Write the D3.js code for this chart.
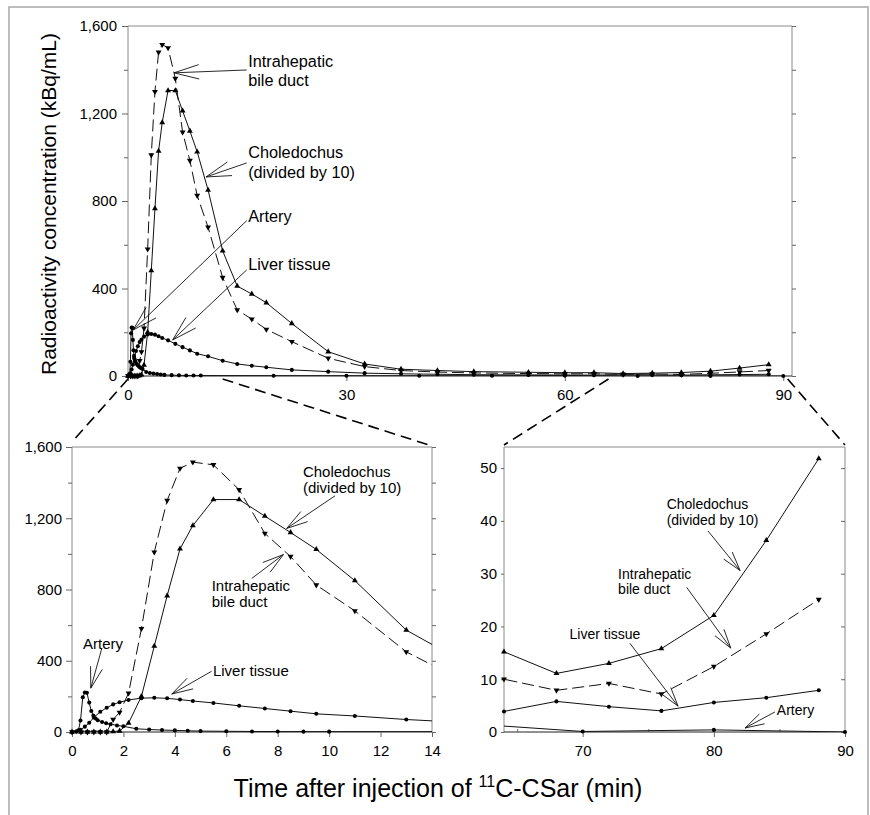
<!DOCTYPE html>
<html lang="en">
<head>
<meta charset="UTF-8">
<title>11C-CSar time-activity curves</title>
<script src="https://d3js.org/d3.v7.min.js"></script>
<style>
  body { margin: 0; background: #fff; }
  svg { display: block; font-family: Arial, "Liberation Sans", sans-serif; }
  .frame { fill: none; stroke: #a8a8a8; stroke-width: 1.5; }
  .box { fill: none; stroke: #8a8a8a; stroke-width: 1; }
  .tick text { font-size: 15px; fill: #000; }
  .tick line { stroke: #666; }
  .curve { fill: none; stroke: #111; stroke-width: 1; }
  .ann line { stroke: #111; stroke-width: 0.9; }
  .zoomline { stroke: #000; stroke-width: 1.6; stroke-dasharray: 11,6; }
</style>
</head>
<body>
<svg id="chart" width="870" height="815"></svg>
<script>
// ---- data ----
const bileTime = [0, 0.35, 0.6, 0.85, 1.1, 1.35, 1.6, 1.85, 2.2, 2.7, 3.2, 3.7, 4.2, 4.7,
  5.5, 6.5, 7.5, 8.5, 9.5, 11, 13, 15, 17, 19, 22.5, 27.5, 32.5, 37.5, 42.5, 47.5,
  55, 60, 64, 68, 72, 76, 80, 84, 88];
const choledochus = [0, 0, 0, 0, 0, 0, 2, 6, 50, 200, 482, 765, 1028, 1159,
  1305, 1305, 1212, 1120, 1025, 850, 572, 411, 375, 335, 240, 111, 55, 31, 25, 20,
  17, 15, 15.2, 11.1, 13, 15.8, 22.1, 36.3, 51.8];
const intrahepatic = [0, 0, 0, 0, 0, 0, 70, 110, 218, 580, 1010, 1300, 1480, 1515,
  1500, 1360, 1115, 985, 825, 680, 450, 302, 260, 213, 157, 81, 43, 25, 18, 14,
  11, 10, 10, 7.9, 9.2, 7.2, 12.4, 18.6, 25.1];

const liverTime = [0, 0.17, 0.33, 0.5, 0.67, 0.85, 1.1, 1.35, 1.6, 1.85, 2.2, 2.7, 3.2, 3.7,
  4.2, 4.7, 5.5, 6.5, 7.5, 8.5, 9.5, 11, 13, 15, 17, 19, 22.5, 27.5, 32.5, 37.5,
  42.5, 47.5, 55, 60, 64, 68, 72, 76, 80, 84, 88];
const liver = [0, 3, 12, 30, 52, 82, 114, 136, 155, 167, 180, 190, 192, 189,
  182, 174, 163, 147, 132, 117, 102, 90, 70, 55, 47, 40, 28, 20, 13, 10,
  8, 6, 5, 4.5, 3.9, 5.8, 4.8, 4.0, 5.6, 6.5, 7.9];

const arteryTime = [0, 0.17, 0.25, 0.33, 0.42, 0.5, 0.58, 0.67, 0.75, 0.83, 0.92, 1.0,
  1.17, 1.33, 1.5, 1.75, 2.0, 2.5, 3, 3.5, 4, 4.5, 5, 6, 7, 8, 9, 10,
  20, 30, 40, 50, 60, 70, 80, 90];
const artery = [0, 2, 10, 65, 195, 222, 220, 165, 118, 92, 76, 66,
  56, 49, 44, 37, 32, 18, 14, 11, 9, 7, 5, 4, 3, 2.5, 2, 2,
  1.5, 1.3, 1.2, 1.0, 1.8, 0.1, 0.4, 0];

const topXTicks = [0, 30, 60, 90];
const earlyXTicks = [0, 2, 4, 6, 8, 10, 12, 14];
const lateXTicks = [70, 80, 90];
const kbqTicks = [0, 400, 800, 1200, 1600];
const lateYTicks = [0, 10, 20, 30, 40, 50];

const series = [
  { name: 'Choledochus', t: bileTime, v: choledochus, shape: 'up', dash: null },
  { name: 'Intrahepatic', t: bileTime, v: intrahepatic, shape: 'down', dash: '12,5' },
  { name: 'Liver', t: liverTime, v: liver, shape: 'dot', dash: null },
  { name: 'Artery', t: arteryTime, v: artery, shape: 'dot', dash: null }
];

// annotation labels, in data units of each panel
const annTop = [
  { label: ['Intrahepatic', 'bile duct'], at: [16.5, 1414], from: [16.3, 1399], to: [6.32, 1386] },
  { label: ['Choledochus', '(divided by 10)'], at: [16.5, 995], from: [16.3, 974], to: [10.72, 910] },
  { label: ['Artery'], at: [16.5, 705], from: [16.3, 710], to: [0.69, 210] },
  { label: ['Liver tissue'], at: [16.5, 485], from: [16.3, 485], to: [6.14, 165] }
];
const annEarly = [
  { label: ['Artery'], at: [0.43, 464], from: [1.16, 470], to: [0.73, 246] },
  { label: ['Liver tissue'], at: [5.48, 313], from: [5.43, 341], to: [3.88, 213] },
  { label: ['Intrahepatic', 'bile duct'], at: [5.43, 794], from: [6.99, 862], to: [8.22, 996] },
  { label: ['Choledochus', '(divided by 10)'], at: [8.98, 1432], from: [10.23, 1326], to: [8.35, 1143] }
];
const annLate = [
  { label: ['Choledochus', '(divided by 10)'], at: [76.4, 42.2], from: [79.55, 38.1], to: [82.0, 30.6] },
  { label: ['Intrahepatic', 'bile duct'], at: [72.7, 29.0], from: [77.93, 27.4], to: [81.29, 15.9] },
  { label: ['Liver tissue'], at: [69.0, 17.6], from: [73.6, 16.8], to: [77.27, 4.9] },
  { label: ['Artery'], at: [84.8, 3.2], from: [84.66, 3.8], to: [82.38, 0.76] }
];

const svg = d3.select('#chart');

svg.append('rect').attr('class', 'frame')
  .attr('x', 9).attr('y', 7).attr('width', 859).attr('height', 830);

const panels = [
  { id: 'top', xd: [0, 91.2], yd: [0, 1600], l: 128, r: 792, t: 26, b: 376,
    xt: topXTicks, yt: kbqTicks, minor: 200, fmt: d3.format(','), ann: annTop, font: 16.3, lh: 19.5, wing: 26 },
  { id: 'early', xd: [0, 14], yd: [0, 1600], l: 72, r: 432, t: 447, b: 732,
    xt: earlyXTicks, yt: kbqTicks, minor: 200, fmt: d3.format(','), ann: annEarly, font: 15, lh: 16, wing: 22 },
  { id: 'late', xd: [64, 90], yd: [0, 54], l: 504, r: 845, t: 447, b: 732,
    xt: lateXTicks, yt: lateYTicks, minor: 10, fmt: d3.format('d'), ann: annLate, font: 14, lh: 15.5, wing: 20 }
];

const symUp = d3.symbol().type(d3.symbolTriangle).size(15)();
const symDot = d3.symbol().type(d3.symbolCircle).size(13)();

panels.forEach(p => {
  const x = d3.scaleLinear().domain(p.xd).range([p.l, p.r]);
  const y = d3.scaleLinear().domain(p.yd).range([p.b, p.t]);
  p.x = x; p.y = y;
  const g = svg.append('g').attr('class', 'panel-' + p.id);

  g.append('clipPath').attr('id', 'clip-' + p.id)
    .append('rect').attr('x', p.l).attr('y', p.t - 4).attr('width', p.r - p.l).attr('height', p.b - p.t + 4);

  // box
  g.append('path').attr('class', 'box')
    .attr('d', `M${p.l},${p.b}V${p.t}H${p.r}V${p.b}`);

  // y axis left, labelled
  const yAx = g.append('g').attr('transform', `translate(${p.l},0)`)
    .call(d3.axisLeft(y).tickValues(p.yt).tickFormat(p.fmt).tickSize(p.id === 'late' ? 3 : 6).tickPadding(p.id === 'top' ? 5 : 4));
  yAx.select('.domain').remove();
  const minorVals = d3.range(p.yd[0], p.yd[1] + 0.01, p.minor);
  const yMin = g.append('g').attr('transform', `translate(${p.l},0)`)
    .call(d3.axisLeft(y).tickValues(minorVals.filter(v => !p.yt.includes(v))).tickFormat('').tickSize(4));
  yMin.select('.domain').remove();
  const yR = g.append('g').attr('transform', `translate(${p.r},0)`)
    .call(d3.axisRight(y).tickValues(minorVals).tickFormat('').tickSize(p.id === 'late' ? -4 : 4));
  yR.select('.domain').remove();

  // x axis
  const xAx = g.append('g').attr('transform', `translate(0,${p.b})`)
    .call(d3.axisBottom(x).tickValues(p.xt).tickSize(5).tickPadding(8).tickFormat(d3.format('d')));
  xAx.select('.domain').attr('stroke', '#222').attr('d', `M${p.l},0H${p.r}`);
  if (p.id === 'late') {
    g.append('g').attr('transform', `translate(0,${p.b})`)
      .call(d3.axisBottom(x).tickValues([65, 75, 85]).tickFormat('').tickSize(-3))
      .select('.domain').remove();
  }

  // curves
  const line = d3.line()
    .x(d => x(d[0])).y(d => y(d[1]));
  const plot = g.append('g').attr('clip-path', `url(#clip-${p.id})`);
  const marks = g.append('g');
  series.forEach(s => {
    const pts = s.t.map((t, i) => [t, s.v[i]]);
    plot.append('path').attr('class', 'curve')
      .attr('stroke-dasharray', s.dash)
      .attr('d', line(pts));
    const inside = pts.filter(d => d[0] >= p.xd[0] && d[0] <= p.xd[1] && d[1] <= p.yd[1]);
    marks.selectAll(null).data(inside).join('path')
      .attr('d', s.shape === 'dot' ? symDot : symUp)
      .attr('fill', '#000')
      .attr('transform', d => `translate(${x(d[0])},${y(d[1])})` + (s.shape === 'down' ? ' rotate(180)' : ''));
  });

  // annotations
  const ag = g.append('g').attr('class', 'ann');
  p.ann.forEach(a => {
    const sx = x(a.from[0]), sy = y(a.from[1]);
    const ex = x(a.to[0]), ey = y(a.to[1]);
    ag.append('line').attr('x1', sx).attr('y1', sy).attr('x2', ex).attr('y2', ey);
    const ang = Math.atan2(sy - ey, sx - ex);
    [-0.28, 0.28].forEach(da => {
      ag.append('line').attr('x1', ex).attr('y1', ey)
        .attr('x2', ex + p.wing * Math.cos(ang + da))
        .attr('y2', ey + p.wing * Math.sin(ang + da));
    });
    const txt = ag.append('text')
      .attr('x', x(a.at[0])).attr('y', y(a.at[1]))
      .style('font-size', p.font + 'px');
    a.label.forEach((s, i) => {
      txt.append('tspan').attr('x', x(a.at[0])).attr('dy', i ? p.lh : 0).text(s);
    });
  });
});

// dashed lines tying the insets to the main plot
const [pTop, pEarly, pLate] = panels;
const zooms = [
  [pTop.x(0), pEarly.l, pEarly.t - 5],
  [pTop.x(13), pEarly.r, pEarly.t - 1],
  [pTop.x(66), pLate.l, pLate.t - 2],
  [pTop.x(90.6), pLate.r, pLate.t - 2]
];
svg.append('g').selectAll('line').data(zooms).join('line')
  .attr('class', 'zoomline')
  .attr('x1', d => d[0]).attr('y1', pTop.b + 3)
  .attr('x2', d => d[1]).attr('y2', d => d[2]);

// axis titles
svg.append('text')
  .attr('transform', `translate(56,${(pTop.t + pTop.b) / 2 + 3}) rotate(-90)`)
  .attr('text-anchor', 'middle')
  .style('font-size', '21px')
  .text('Radioactivity concentration (kBq/mL)');

const xt = svg.append('text')
  .attr('x', 438).attr('y', 797)
  .attr('text-anchor', 'middle')
  .style('font-size', '25px');
xt.append('tspan').text('Time after injection of ');
xt.append('tspan').attr('dy', -10).style('font-size', '16px').text('11');
xt.append('tspan').attr('dy', 10).text('C-CSar (min)');
</script>
</body>
</html>
